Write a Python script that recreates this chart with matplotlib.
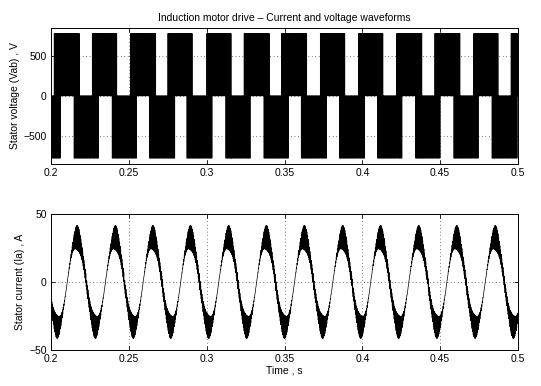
import numpy as np
import matplotlib
matplotlib.use("Agg")
from matplotlib import pyplot as plt

# ---- values ----
t_start, t_end = 0.2, 0.5

# line voltage Vab: pulse level and the times where the +/- pulse blocks begin
vdc = 780.0
vab_pos_block_starts = [0.1776, 0.2021, 0.2265, 0.2512, 0.2749, 0.3000, 0.3242,
                        0.3482, 0.3728, 0.3974, 0.4221, 0.4467, 0.4713, 0.4954]
vab_neg_block_starts = [0.1899, 0.2143, 0.2390, 0.2631, 0.2872, 0.3118, 0.3364,
                        0.3607, 0.3851, 0.4095, 0.4339, 0.4583, 0.4832]
vab_block_width = 0.0162
f_switch = 2000.0

# stator current Ia: times of the positive peaks and levels
ia_peak_times = [0.2165, 0.2411, 0.2652, 0.2893, 0.3139, 0.3381,
                 0.3625, 0.3872, 0.4114, 0.4360, 0.4604, 0.4851]
ia_base_amp = 32.0
ia_ripple_max = 24.0
ia_ripple_min = 0.6
f_ripple = 2500.0

x_ticks = [0.2, 0.25, 0.3, 0.35, 0.4, 0.45, 0.5]
x_labels = ["0.2", "0.25", "0.3", "0.35", "0.4", "0.45", "0.5"]
v_ticks = [-500, 0, 500]
i_ticks = [-50, 0, 50]


def in_block(t, starts, width):
    s = np.asarray(starts)
    d = t[:, None] - s[None, :]
    return np.any((d >= 0) & (d < width), axis=1)


# Vab as a switching waveform, one carrier period at a time
ts = 1.0 / f_switch
tk = np.arange(t_start - ts, t_end + ts, ts)
mid = tk + ts / 2
pos = in_block(mid, vab_pos_block_starts, vab_block_width)
neg = in_block(mid, vab_neg_block_starts, vab_block_width)
pattern = np.zeros((len(tk), 4))
pattern[pos & ~neg] = [0, 1, 1, 0]
pattern[neg & ~pos] = [0, -1, -1, 0]
pattern[pos & neg] = [1, 1, -1, -1]
t_v = (tk[:, None] + np.array([0, 0.25, 0.5, 0.75])[None, :] * ts).ravel()
v_ab = (pattern * vdc).ravel()

# Ia: fundamental locked to the read peak times plus switching ripple
dt = 1e-5
t_i = np.arange(t_start, t_end + dt, dt)
pk = np.array(ia_peak_times)
period = np.mean(np.diff(pk))
pk_ext = np.concatenate([[pk[0] - period], pk, [pk[-1] + period]])
p = np.interp(t_i, pk_ext, np.arange(len(pk_ext)) - 1.0)
theta = 2 * np.pi * p
frac = p % 1.0
w = np.sqrt((1 + np.cos(2 * np.pi * (frac - 0.24))) / 2)
env = ia_ripple_min + (ia_ripple_max - ia_ripple_min) * w * (0.32 + 0.68 * np.cos(theta) ** 4)
tri = np.abs(((t_i * f_ripple) % 1.0) * 2 - 1)
i_a = ia_base_amp * np.cos(theta) + env * (tri - 0.45) * np.sign(np.cos(theta))

# ---- figure ----
plt.rcParams['font.family'] = ['Liberation Sans', 'DejaVu Sans']
plt.rcParams['font.size'] = 7.5
plt.rcParams['axes.unicode_minus'] = True

fig = plt.figure(figsize=(5.41, 3.86), dpi=100)
ax1 = fig.add_axes([0.0943, 0.5759, 0.8632, 0.3516])
ax2 = fig.add_axes([0.0943, 0.0925, 0.8632, 0.3523])

ax1.step(t_v, v_ab, where='post', color='black', linewidth=0.5)
ax1.set_ylim(-850, 850)
ax1.set_yticks(v_ticks)
ax1.set_ylabel("Stator voltage (Vab) , V")
ax1.yaxis.set_label_coords(-0.066, 0.5)
ax1.set_title("Induction motor drive \u2013 Current and voltage waveforms", fontsize=7.5, pad=5)

ax2.plot(t_i, i_a, color='black', linewidth=0.5)
ax2.set_ylim(-50, 50)
ax2.set_yticks(i_ticks)
ax2.set_ylabel("Stator current (Ia) , A")
ax2.yaxis.set_label_coords(-0.056, 0.5)
ax2.set_xlabel("Time , s", labelpad=1)

for ax in (ax1, ax2):
    ax.set_xlim(t_start, t_end)
    ax.set_xticks(x_ticks)
    ax.set_xticklabels(x_labels)
    ax.tick_params(direction='in', length=3, width=0.6, top=True, right=True,
                   labelsize=7.5, pad=3)
    ax.grid(True, linestyle=(0, (1, 4)), color='black', linewidth=0.5)
    for s in ax.spines.values():
        s.set_linewidth(0.7)

fig.savefig("out.png", dpi=100)
